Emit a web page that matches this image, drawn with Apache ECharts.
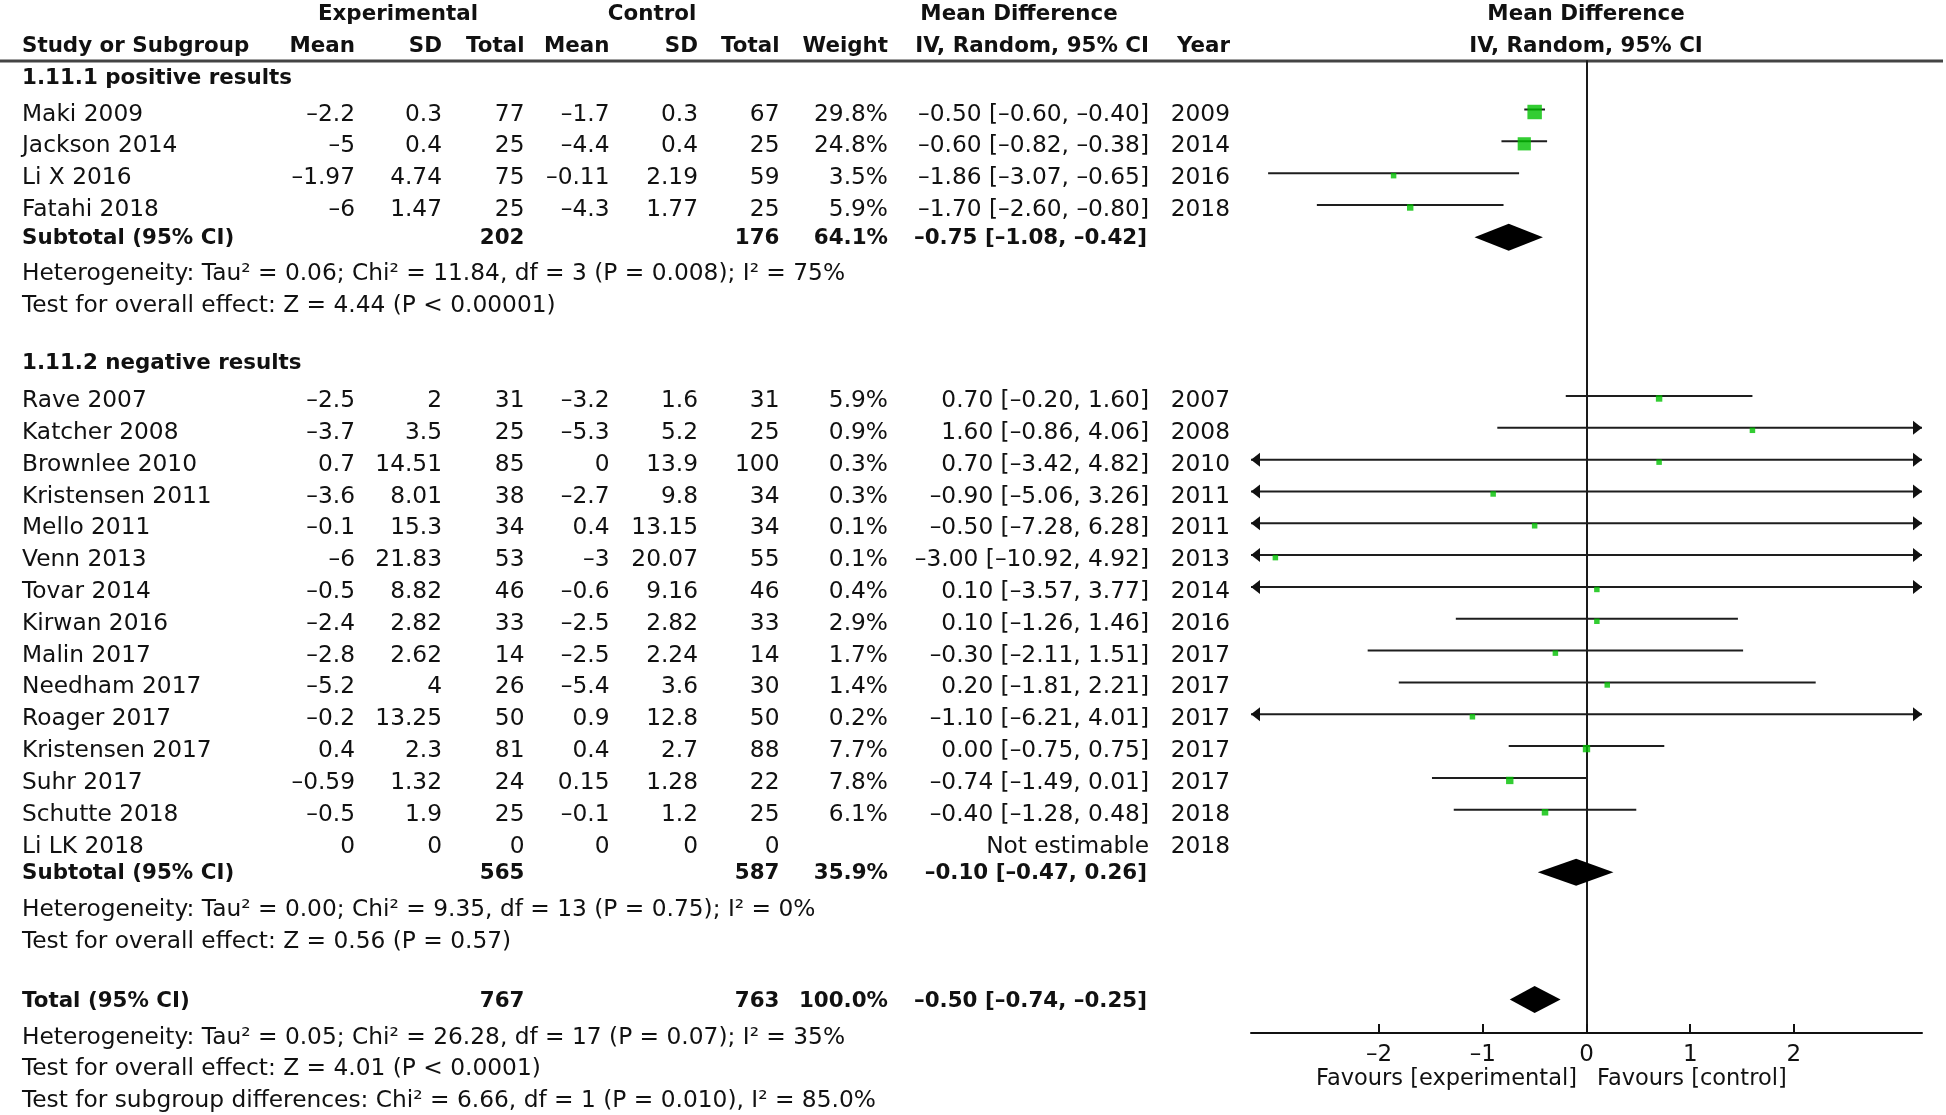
<!DOCTYPE html>
<html><head><meta charset="utf-8">
<script src="https://cdn.jsdelivr.net/npm/echarts@6/dist/echarts.min.js"></script>
<style>html,body{margin:0;padding:0;background:#fff}#c{width:1946px;height:1115px}</style>
</head><body><div id="c"></div>
<script>
// ---------- data ----------
const studies = ['Maki 2009','Jackson 2014','Li X 2016','Fatahi 2018',
  'Rave 2007','Katcher 2008','Brownlee 2010','Kristensen 2011','Mello 2011','Venn 2013','Tovar 2014',
  'Kirwan 2016','Malin 2017','Needham 2017','Roager 2017','Kristensen 2017','Suhr 2017','Schutte 2018','Li LK 2018'];
const expMean  = [-2.2,-5,-1.97,-6, -2.5,-3.7,0.7,-3.6,-0.1,-6,-0.5,-2.4,-2.8,-5.2,-0.2,0.4,-0.59,-0.5,0];
const expSD    = [0.3,0.4,4.74,1.47, 2,3.5,14.51,8.01,15.3,21.83,8.82,2.82,2.62,4,13.25,2.3,1.32,1.9,0];
const expTotal = [77,25,75,25, 31,25,85,38,34,53,46,33,14,26,50,81,24,25,0];
const ctlMean  = [-1.7,-4.4,-0.11,-4.3, -3.2,-5.3,0,-2.7,0.4,-3,-0.6,-2.5,-2.5,-5.4,0.9,0.4,0.15,-0.1,0];
const ctlSD    = [0.3,0.4,2.19,1.77, 1.6,5.2,13.9,9.8,13.15,20.07,9.16,2.82,2.24,3.6,12.8,2.7,1.28,1.2,0];
const ctlTotal = [67,25,59,25, 31,25,100,34,34,55,46,33,14,30,50,88,22,25,0];
const weights  = [29.8,24.8,3.5,5.9, 5.9,0.9,0.3,0.3,0.1,0.1,0.4,2.9,1.7,1.4,0.2,7.7,7.8,6.1,null];
const md       = [-0.50,-0.60,-1.86,-1.70, 0.70,1.60,0.70,-0.90,-0.50,-3.00,0.10,0.10,-0.30,0.20,-1.10,0.00,-0.74,-0.40,null];
const ciLow    = [-0.60,-0.82,-3.07,-2.60, -0.20,-0.86,-3.42,-5.06,-7.28,-10.92,-3.57,-1.26,-2.11,-1.81,-6.21,-0.75,-1.49,-1.28,null];
const ciHigh   = [-0.40,-0.38,-0.65,-0.80, 1.60,4.06,4.82,3.26,6.28,4.92,3.77,1.46,1.51,2.21,4.01,0.75,0.01,0.48,null];
const years    = [2009,2014,2016,2018, 2007,2008,2010,2011,2011,2013,2014,2016,2017,2017,2017,2017,2017,2018,2018];

const pooledNames   = ['Subtotal (95% CI)','Subtotal (95% CI)','Total (95% CI)'];
const pooledExpTot  = [202,565,767];
const pooledCtlTot  = [176,587,763];
const pooledWeight  = [64.1,35.9,100.0];
const pooledMD      = [-0.75,-0.10,-0.50];
const pooledLow     = [-1.08,-0.47,-0.74];
const pooledHigh    = [-0.42,0.26,-0.25];

const groupTitles = ['1.11.1 positive results','1.11.2 negative results'];
const footLines = [
  'Heterogeneity: Tau² = 0.06; Chi² = 11.84, df = 3 (P = 0.008); I² = 75%',
  'Test for overall effect: Z = 4.44 (P < 0.00001)',
  'Heterogeneity: Tau² = 0.00; Chi² = 9.35, df = 13 (P = 0.75); I² = 0%',
  'Test for overall effect: Z = 0.56 (P = 0.57)',
  'Heterogeneity: Tau² = 0.05; Chi² = 26.28, df = 17 (P = 0.07); I² = 35%',
  'Test for overall effect: Z = 4.01 (P < 0.0001)',
  'Test for subgroup differences: Chi² = 6.66, df = 1 (P = 0.010), I² = 85.0%'
];
const xTicks = [-2,-1,0,1,2];
const axisLabels = ['Favours [experimental]','Favours [control]'];

// ---------- layout (row positions, pixels) ----------
const H = 31.83, Y0 = 113;
const ty = r => Y0 + r * H;
const studyRows  = [0,1,2,3, 9,10,11,12,13,14,15,16,17,18,19,20,21,22,23];
const pooledRows = [3.9, 23.85, 27.85];
const groupRows  = [-1.13, 7.82];
const footRows   = [5,6,25,26,29,30,31];
const XMIN = -3.235, XMAX = 3.235;
const GRID_TOP = 61, GRID_BOTTOM_Y = 1033;
const TEXT_DY = 1.5, LINE_DY = -3.5, SQ_DY = -1;
const col = {name:22, eM:355, eS:442, eT:524.5, cM:609.5, cS:698, cT:779.5, w:888, ci:1149, yr:1230};

const fmt = v => (v < 0 ? '–' : '') + String(Math.abs(v));
const fmt2 = v => (v < 0 ? '–' : '') + Math.abs(v).toFixed(2);
const ciText = (m,l,h) => fmt2(m) + ' [' + fmt2(l) + ', ' + fmt2(h) + ']';

const FONT = '23.3px "DejaVu Sans"', BFONT = 'bold 21.4px "DejaVu Sans"', SFONT = '22.5px "DejaVu Sans"', COLOR = '#111';
const graphics = [];
function T(str, x, y, align, bold, font) {
  graphics.push({type:'text', x:x, y:y + TEXT_DY, silent:true, z:10,
    style:{text:str, fill:COLOR, font: font || (bold ? BFONT : FONT), align:align, verticalAlign:'middle',
           textAlign:align, textVerticalAlign:'middle'}});
}
// headers
T('Experimental', 398, ty(-3.14), 'center', true);
T('Control', 652, ty(-3.14), 'center', true);
T('Mean Difference', 1019, ty(-3.14), 'center', true);
T('Mean Difference', 1586, ty(-3.14), 'center', true);
const hy = ty(-2.135);
T('Study or Subgroup', col.name, hy, 'left', true);
T('Mean', col.eM, hy, 'right', true); T('SD', col.eS, hy, 'right', true); T('Total', col.eT, hy, 'right', true);
T('Mean', col.cM, hy, 'right', true); T('SD', col.cS, hy, 'right', true); T('Total', col.cT, hy, 'right', true);
T('Weight', col.w, hy, 'right', true); T('IV, Random, 95% CI', col.ci, hy, 'right', true);
T('Year', col.yr, hy, 'right', true); T('IV, Random, 95% CI', 1586, hy, 'center', true);
graphics.push({type:'line', silent:true, shape:{x1:0,y1:GRID_TOP,x2:1943,y2:GRID_TOP}, style:{stroke:'#444', lineWidth:3}});

groupTitles.forEach((g,i) => T(g, col.name, ty(groupRows[i]), 'left', true));
studies.forEach((s,i) => {
  const y = ty(studyRows[i]);
  T(s, col.name, y, 'left');
  T(fmt(expMean[i]), col.eM, y, 'right'); T(fmt(expSD[i]), col.eS, y, 'right'); T(String(expTotal[i]), col.eT, y, 'right');
  T(fmt(ctlMean[i]), col.cM, y, 'right'); T(fmt(ctlSD[i]), col.cS, y, 'right'); T(String(ctlTotal[i]), col.cT, y, 'right');
  if (weights[i] != null) {
    T(weights[i].toFixed(1) + '%', col.w, y, 'right');
    T(ciText(md[i], ciLow[i], ciHigh[i]), col.ci, y, 'right');
  } else {
    T('Not estimable', col.ci, y, 'right');
  }
  T(String(years[i]), col.yr, y, 'right');
});
pooledNames.forEach((n,i) => {
  const y = ty(pooledRows[i]);
  T(n, col.name, y, 'left', true);
  T(String(pooledExpTot[i]), col.eT, y, 'right', true);
  T(String(pooledCtlTot[i]), col.cT, y, 'right', true);
  T(pooledWeight[i].toFixed(1) + '%', col.w, y, 'right', true);
  T(ciText(pooledMD[i], pooledLow[i], pooledHigh[i]), col.ci - 2, y, 'right', true);
});
footLines.forEach((f,i) => T(f, col.name, ty(footRows[i]), 'left'));
T(axisLabels[0], 1577, 1078, 'right', false, SFONT);
T(axisLabels[1], 1597, 1078, 'left', false, SFONT);

// ---------- chart ----------
const studyIdx = studies.map((_,i) => i).filter(i => weights[i] != null);
const ciData = studyIdx.map(i => [ciLow[i], ciHigh[i], studyRows[i]]);
const sqData = studyIdx.map(i => [md[i], studyRows[i], weights[i]]);
const diaData = pooledMD.map((m,i) => [m, pooledLow[i], pooledHigh[i], pooledRows[i]]);

const chart = echarts.init(document.getElementById('c'), null, {renderer:'canvas'});
chart.setOption({
  backgroundColor:'#fff',
  animation:false,
  grid:{left:1251, right:1946-1922, top:GRID_TOP, bottom:1115-GRID_BOTTOM_Y, containLabel:false, outerBoundsMode:'none'},
  xAxis:{type:'value', min:XMIN, max:XMAX, position:'bottom',
    axisLine:{onZero:false, lineStyle:{color:'#111', width:2}},
    axisTick:{show:true, inside:true, length:9, customValues:xTicks, lineStyle:{color:'#111', width:2}},
    axisLabel:{customValues:xTicks, margin:11, color:COLOR, fontFamily:'DejaVu Sans', fontSize:23,
      formatter: v => fmt(v)},
    splitLine:{show:false}},
  yAxis:{type:'value', inverse:true, min:(GRID_TOP - Y0)/H, max:(GRID_BOTTOM_Y - Y0)/H,
    axisLine:{show:true, onZero:true, lineStyle:{color:'#1a1a1a', width:2}},
    axisTick:{show:false}, axisLabel:{show:false}, splitLine:{show:false}},
  series:[
    {type:'custom', data:ciData, encode:{x:[0,1], y:2}, z:2, clip:false,
      renderItem:function(params, api){
        const lo = api.value(0), hi = api.value(1), r = api.value(2);
        const p1 = api.coord([Math.max(lo, XMIN), r]), p2 = api.coord([Math.min(hi, XMAX), r]);
        const y = p1[1] + LINE_DY;
        const ch = [{type:'line', shape:{x1:p1[0], y1:y, x2:p2[0], y2:y}, style:{stroke:'#1e1e1e', lineWidth:2}}];
        if (lo < XMIN) ch.push({type:'polygon', shape:{points:[[p1[0],y],[p1[0]+9,y-7],[p1[0]+9,y+7]]}, style:{fill:'#111'}});
        if (hi > XMAX) ch.push({type:'polygon', shape:{points:[[p2[0],y],[p2[0]-9,y-7],[p2[0]-9,y+7]]}, style:{fill:'#111'}});
        return {type:'group', children:ch};
      }},
    {type:'scatter', data:sqData, symbol:'rect', z:3, symbolOffset:[0, SQ_DY],
      symbolSize: v => Math.max(5.5, 2.65 * Math.sqrt(v[2])),
      itemStyle:{color:'#00C000'}},
    {type:'custom', data:diaData, encode:{x:[0,1,2], y:3}, z:3,
      renderItem:function(params, api){
        const m = api.coord([api.value(0), api.value(3)]);
        const l = api.coord([api.value(1), api.value(3)]);
        const h = api.coord([api.value(2), api.value(3)]);
        return {type:'polygon', shape:{points:[[l[0],m[1]],[m[0],m[1]-13.5],[h[0],m[1]],[m[0],m[1]+13.5]]},
          style:{fill:'#000'}};
      }}
  ],
  graphic:graphics
});
</script></body></html>
